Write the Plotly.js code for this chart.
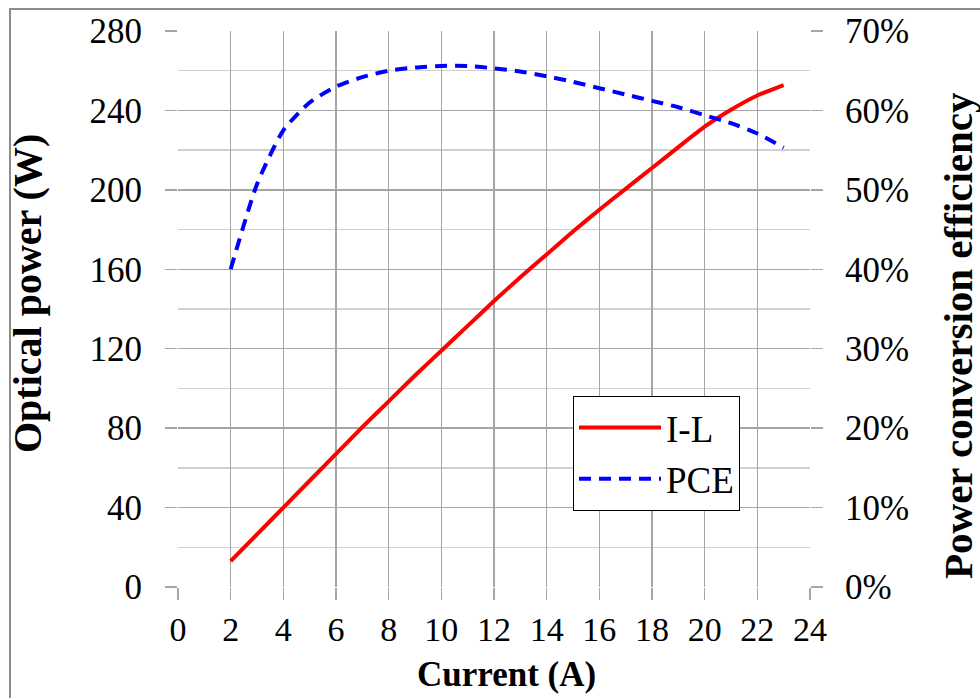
<!DOCTYPE html>
<html>
<head>
<meta charset="utf-8">
<script src="https://cdn.plot.ly/plotly-3.0.1.min.js"></script>
<style>
  html, body { margin: 0; padding: 0; background: #fff; }
  #chart { width: 980px; height: 698px; }
</style>
</head>
<body>
<div id="chart"></div>
<script>
// Current (A)
const current = [2, 3, 4, 5, 6, 7, 8, 9, 10, 11, 12, 13, 14, 15, 16, 17, 18, 19, 20, 21, 22, 23];
// Optical power (W) — I-L curve
const opticalPower = [13, 26.5, 40, 53.5, 67, 80.5, 93.5, 106.5, 119, 131.5, 144, 156, 167.5, 179, 190, 200.5, 211, 221.5, 231.8, 240.3, 247.5, 252.8];
// Power conversion efficiency (fraction)
const pce = [0.400, 0.507, 0.575, 0.610, 0.630, 0.642, 0.650, 0.654, 0.656, 0.656, 0.653, 0.649, 0.643, 0.636, 0.628, 0.620, 0.612, 0.604, 0.594, 0.584, 0.571, 0.553];

const xTicks = [0, 2, 4, 6, 8, 10, 12, 14, 16, 18, 20, 22, 24];
const yTicks = [0, 40, 80, 120, 160, 200, 240, 280];
const yMinorTicks = [20, 60, 100, 140, 180, 220, 260];
const y2Ticks = [0, 0.1, 0.2, 0.3, 0.4, 0.5, 0.6, 0.7];

const xTitle = "Current (A)";
const yTitle = "Optical power (W)";
const y2Title = "Power conversion efficiency";

const serif = "Liberation Serif, Times New Roman, serif";
const tickSize = 35;

// plot area in pixels: left 178, right 810, top 31, bottom 587
const PL = 178, PR = 810, PT = 31, PB = 587;
const px = v => (v - PL) / (PR - PL);
const py = v => (PB - v) / (PB - PT);

const traces = [
  {
    x: current, y: opticalPower, name: "I-L", type: "scatter", mode: "lines",
    line: { color: "#ff0000", width: 4, shape: "spline", smoothing: 0.6 },
    yaxis: "y"
  },
  {
    x: current, y: pce, name: "PCE", type: "scatter", mode: "lines",
    line: { color: "#0000ff", width: 4, dash: "12px,8px", shape: "spline", smoothing: 0.6 },
    yaxis: "y2"
  }
];

const layout = {
  width: 980, height: 698,
  margin: { l: PL, r: 980 - PR, t: PT, b: 698 - PB },
  paper_bgcolor: "#ffffff", plot_bgcolor: "#ffffff",
  font: { family: serif, size: tickSize, color: "#000" },
  showlegend: true,
  legend: {
    x: px(573), y: py(396), xanchor: "left", yanchor: "top",
    bgcolor: "#ffffff", bordercolor: "#000000", borderwidth: 1,
    font: { family: serif, size: 37, color: "#000" },
    itemwidth: 82, tracegroupgap: 0
  },
  xaxis: {
    range: [0, 24], tickvals: xTicks, ticktext: xTicks.map(String),
    showgrid: true, gridcolor: "#a6a6a6", gridwidth: 1.3,
    zeroline: false, showline: false,
    ticks: "outside", ticklen: 12, tickcolor: "#a6a6a6", tickwidth: 1.3,
    ticklabelstandoff: 0,
    tickfont: { family: serif, size: 34, color: "#000" }
  },
  yaxis: {
    range: [0, 280], tickvals: yTicks, ticktext: yTicks.map(String),
    showgrid: true, gridcolor: "#a6a6a6", gridwidth: 1.3,
    minor: { tickvals: yMinorTicks, showgrid: true, gridcolor: "#d0d0d0", gridwidth: 1.3, ticks: "" },
    zeroline: false, showline: false,
    ticks: "outside", ticklen: 12, tickcolor: "#a6a6a6", tickwidth: 1.3,
    ticklabelstandoff: 16,
    tickfont: { family: serif, size: tickSize, color: "#000" }
  },
  yaxis2: {
    range: [0, 0.7], tickvals: y2Ticks, ticktext: y2Ticks.map(v => Math.round(v * 100) + "%"),
    overlaying: "y", side: "right",
    showgrid: false, zeroline: false, showline: false,
    ticks: "outside", ticklen: 12, tickcolor: "#a6a6a6", tickwidth: 1.3,
    ticklabelstandoff: 15,
    tickfont: { family: serif, size: tickSize, color: "#000" }
  },
  annotations: [
    { text: "<b>" + xTitle + "</b>", xref: "paper", yref: "paper", x: px(506), y: py(674),
      xanchor: "center", yanchor: "middle", showarrow: false,
      font: { family: serif, size: 35, color: "#000" } },
    { text: "<b>" + yTitle + "</b>", xref: "paper", yref: "paper", x: px(28), y: py(294),
      xanchor: "center", yanchor: "middle", showarrow: false, textangle: -90,
      font: { family: serif, size: 40, color: "#000" } },
    { text: "<b>" + y2Title + "</b>", xref: "paper", yref: "paper", x: px(958), y: py(336),
      xanchor: "center", yanchor: "middle", showarrow: false, textangle: -90,
      font: { family: serif, size: 41, color: "#000" } }
  ],
  shapes: [
    {
      type: "rect", xref: "paper", yref: "paper",
      x0: px(10), x1: px(1000), y0: py(740), y1: py(9),
      line: { color: "#8c8c8c", width: 2 }, fillcolor: "rgba(0,0,0,0)", layer: "below"
    }
  ]
};

Plotly.newPlot("chart", traces, layout, { displayModeBar: false, staticPlot: true });
</script>
</body>
</html>
